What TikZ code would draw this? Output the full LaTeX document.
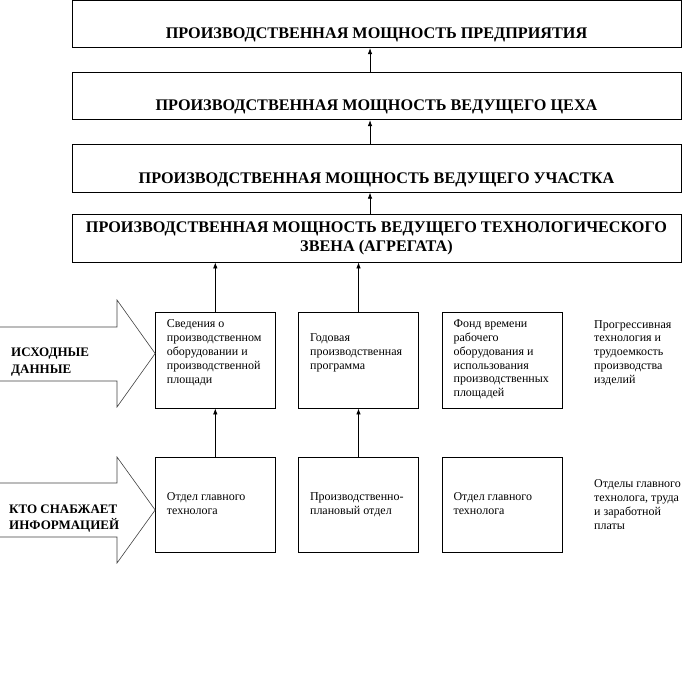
\documentclass[tikz,border=0pt]{standalone}
\usepackage{fontspec}
\setmainfont{Liberation Serif}
\usetikzlibrary{arrows.meta, calc, positioning, math}

\tikzset{
  level/.style={draw, line width=0.75, minimum width=609, inner xsep=0, inner ysep=0,
    text height=38.5, text depth=9, font=\fontsize{16.2}{19}\selectfont\bfseries},
  levelbox/.style={draw, line width=0.75, minimum width=609, minimum height=48, inner sep=0,
    align=center, font=\fontsize{16.2}{19}\selectfont\bfseries},
  srcbox/.style={draw, line width=0.75, minimum width=119.5, minimum height=95.5, inner sep=0},
  txt/.style={anchor=north west, inner sep=0, align=left, font=\fontsize{12}{13.8}\selectfont},
  rowlabel/.style={anchor=west, inner sep=0, align=left, font=\fontsize{13}{16.5}\selectfont\bfseries},
  up/.style={-{Latex[length=6,width=4.5]}, line width=0.75},
  bigarrow/.style={draw=black!75, line width=0.6}
}

\begin{document}
\begin{tikzpicture}[x=1pt, y=-1pt]
\tikzmath{
\xm=376.5;
\ya=360.3;
\yb=504.8;
}
\useasboundingbox (0,0) rectangle (700,699);

% levels of capacity
\node[level] (p1) at (\xm,24) {ПРОИЗВОДСТВЕННАЯ МОЩНОСТЬ ПРЕДПРИЯТИЯ};
\node[level] (p2) at (\xm,96) {ПРОИЗВОДСТВЕННАЯ МОЩНОСТЬ ВЕДУЩЕГО ЦЕХА};
\node[level] (p3) at (\xm,168.5) {ПРОИЗВОДСТВЕННАЯ МОЩНОСТЬ ВЕДУЩЕГО УЧАСТКА};
\node[levelbox] (p4) at (\xm,238) {ПРОИЗВОДСТВЕННАЯ МОЩНОСТЬ ВЕДУЩЕГО ТЕХНОЛОГИЧЕСКОГО\\ЗВЕНА (АГРЕГАТА)};

\draw[up] ([xshift=-6.5]p2.north) -- ([xshift=-6.5]p1.south);
\draw[up] ([xshift=-6.5]p3.north) -- ([xshift=-6.5]p2.south);
\draw[up] ([xshift=-6.5]p4.north) -- ([xshift=-6.5]p3.south);

% input data
\node[srcbox] (a) at (215.3,\ya) {};
\node[srcbox] (b) at (358.5,\ya) {};
\node[srcbox] (c) at (502.5,\ya) {};

\node[txt] (ta) at ([shift={(11.5,7.5)}]a.north west) {Сведения о\\производственном\\оборудовании и\\производственной\\площади};
\node[txt] (tb) at ([shift={(11.5,21.5)}]b.north west) {Годовая\\производственная\\программа};
\node[txt] (tc) at ([shift={(11,7.5)}]c.north west) {Фонд времени\\рабочего\\оборудования и\\использования\\производственных\\площадей};
\node[txt] (td) at (594,320) {Прогрессивная\\технология и\\трудоемкость\\производства\\изделий};

% who supplies
\node[srcbox] (a2) at (215.3,\yb) {};
\node[srcbox] (b2) at (358.5,\yb) {};
\node[srcbox] (c2) at (502.5,\yb) {};

\node[txt] (ta2) at ([shift={(11.5,35.5)}]a2.north west) {Отдел главного\\технолога};
\node[txt] (tb2) at ([shift={(11.5,35.5)}]b2.north west) {Производственно-\\плановый отдел};
\node[txt] (tc2) at ([shift={(11,35.5)}]c2.north west) {Отдел главного\\технолога};
\node[txt] (td2) at (594,479.5) {Отделы главного\\технолога, труда\\и заработной\\платы};

\draw[up] (a.north) -- (a.north |- p4.south);
\draw[up] (b.north) -- (b.north |- p4.south);
\draw[up] (a2.north) -- (a.south);
\draw[up] (b2.north) -- (b.south);

% big arrows
\draw[bigarrow] (0,327) -- (117,327) -- (117,300) -- (a.west |- 0,353.5) -- (117,407) -- (117,381) -- (0,381);
\draw[bigarrow] (0,483) -- (117,483) -- (117,457) -- (a2.west |- 0,510) -- (117,563) -- (117,537) -- (0,537);

\node[rowlabel] (l1) at (11,362) {ИСХОДНЫЕ\\ДАННЫЕ};
\node[rowlabel] (l2) at (9,518.5) {КТО СНАБЖАЕТ\\ИНФОРМАЦИЕЙ};

\end{tikzpicture}
\end{document}
